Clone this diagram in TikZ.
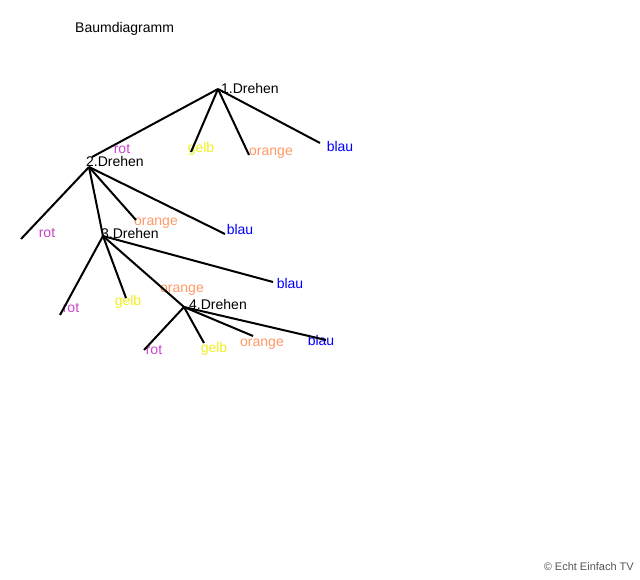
\documentclass[tikz,border=0pt]{standalone}
\usepackage{fontspec}
\setmainfont{Liberation Sans}
\definecolor{crot}{HTML}{CC44CC}
\definecolor{cgelb}{HTML}{F0F020}
\definecolor{corange}{HTML}{FF9966}
\definecolor{cblau}{HTML}{0000FF}
\definecolor{ccopy}{HTML}{555555}
\begin{document}
\begin{tikzpicture}[x=1pt,y=-1pt,
  lbl/.style={font=\fontsize{14}{16}\selectfont, inner sep=0pt},
  rotl/.style={lbl,text=crot},
  gelbl/.style={lbl,text=cgelb},
  orangel/.style={lbl,text=corange},
  blaul/.style={lbl,text=cblau},
  drl/.style={lbl,anchor=west,text=black},
  br/.style={line width=2pt,black}]
\useasboundingbox (0,0) rectangle (640,580);
\fill[white] (0,0) rectangle (640,580);
\node[lbl,anchor=west] (title) at (75,29) {Baumdiagramm};
\node[font=\fontsize{11}{13}\selectfont,text=ccopy,anchor=east,inner sep=0pt] (copy) at (634,567) {© Echt Einfach TV};
% level 1
\coordinate (n1) at (218,89);
\coordinate (n1a) at (92,157);
\coordinate (g1) at (191,152);
\coordinate (o1) at (249,155);
\coordinate (b1) at (320,143);
\node[drl] (d1) at (221,88) {1.Drehen};
\node[rotl] (lr1) at (122,149) {rot};
\node[gelbl] (lg1) at (201,149) {gelb};
\node[orangel] (lo1) at (271,153) {orange};
\node[blaul] (lb1) at (340,146) {blau};
\draw[br] (n1) -- (n1a);
\draw[br] (n1) -- (g1);
\draw[br] (n1) -- (o1);
\draw[br] (n1) -- (b1);
% level 2
\coordinate (n2) at (89,167);
\coordinate (r2) at (21,239);
\coordinate (o2) at (136,220);
\coordinate (b2) at (225,234);
\node[drl] (d2) at (86,161) {2.Drehen};
\node[rotl] (lr2) at (47,233) {rot};
\node[orangel] (lo2) at (156,223) {orange};
\node[blaul] (lb2) at (240,229) {blau};
% level 3
\coordinate (n3) at (103,236);
\coordinate (r3) at (60,315);
\coordinate (g3) at (126,298);
\coordinate (b3) at (273,282);
\node[drl] (d3) at (101,233) {3.Drehen};
\node[rotl] (lr3) at (71,308) {rot};
\node[gelbl] (lg3) at (128,302) {gelb};
\node[orangel] (lo3) at (182,290) {orange};
\node[blaul] (lb3) at (290,283) {blau};
\draw[br] (n2) -- (r2);
\draw[br] (n2) -- (n3);
\draw[br] (n2) -- (o2);
\draw[br] (n2) -- (b2);
% level 4
\coordinate (n4) at (184,307);
\coordinate (r4) at (144,350);
\coordinate (g4) at (204,343);
\coordinate (o4) at (253,336);
\coordinate (b4) at (326,340);
\node[drl] (d4) at (189,304) {4.Drehen};
\node[rotl] (lr4) at (154,350) {rot};
\node[gelbl] (lg4) at (214,349) {gelb};
\node[orangel] (lo4) at (262,344) {orange};
\node[blaul] (lb4) at (321,340) {blau};
\draw[br] (n3) -- (r3);
\draw[br] (n3) -- (g3);
\draw[br] (n3) -- (n4);
\draw[br] (n3) -- (b3);
\draw[br] (n4) -- (r4);
\draw[br] (n4) -- (g4);
\draw[br] (n4) -- (o4);
\draw[br] (n4) -- (b4);
\end{tikzpicture}
\end{document}
